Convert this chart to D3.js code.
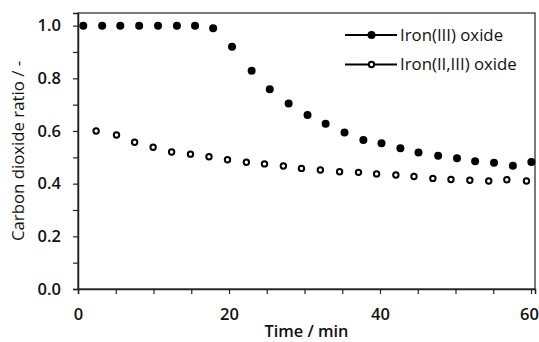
<!DOCTYPE html>
<html>
<head>
<meta charset="utf-8">
<script src="https://cdn.jsdelivr.net/npm/d3@7"></script>
<style>
  html, body { margin: 0; padding: 0; background: #fff; }
  svg { display: block; font-family: "Open Sans", sans-serif; }
</style>
</head>
<body>
<svg id="chart" width="539" height="342"></svg>
<script>
// Data
const seriesNames = ["Iron(III) oxide", "Iron(II,III) oxide"];
const timeIron3 = [0.7, 3.2, 5.6, 8.1, 10.6, 13.1, 15.5, 17.9, 20.4, 23.0, 25.4, 27.9, 30.4, 32.8, 35.3, 37.8, 40.2, 42.7, 45.1, 47.7, 50.2, 52.6, 55.1, 57.6, 60.05];
const ratioIron3 = [1.0, 1.0, 1.0, 1.0, 1.0, 1.0, 1.0, 0.990, 0.920, 0.829, 0.758, 0.704, 0.661, 0.627, 0.594, 0.566, 0.553, 0.534, 0.518, 0.506, 0.496, 0.485, 0.479, 0.468, 0.482];
const timeIron23 = [2.4, 5.1, 7.5, 9.95, 12.4, 14.9, 17.35, 19.8, 22.3, 24.7, 27.2, 29.6, 32.1, 34.65, 37.15, 39.55, 42.1, 44.5, 47.0, 49.4, 51.9, 54.4, 56.8, 59.4];
const ratioIron23 = [0.600, 0.585, 0.557, 0.538, 0.520, 0.512, 0.502, 0.491, 0.481, 0.475, 0.467, 0.458, 0.452, 0.445, 0.443, 0.437, 0.433, 0.427, 0.420, 0.416, 0.413, 0.410, 0.415, 0.410];
const xTicks = [0, 20, 40, 60];
const xMinorTicks = [0, 5, 10, 15, 20, 25, 30, 35, 40, 45, 50, 55, 60];
const yTicks = [0.0, 0.2, 0.4, 0.6, 0.8, 1.0];
const yMinorTicks = [0, 0.1, 0.2, 0.3, 0.4, 0.5, 0.6, 0.7, 0.8, 0.9, 1.0];
const xDomain = [0, 60.53];
const yDomain = [0, 1.048];

const svg = d3.select("#chart");
const L = 78, R = 535, T = 13, B = 289;

const x = d3.scaleLinear().domain(xDomain).range([L, R]);
const y = d3.scaleLinear().domain(yDomain).range([B, T]);

// frame (top & right)
svg.append("rect").attr("x", L).attr("y", T).attr("width", R - L).attr("height", B - T)
  .attr("fill", "none").attr("stroke", "#222").attr("stroke-width", 1.2);

// x axis
svg.append("g").attr("transform", `translate(0,${B})`)
  .call(d3.axisBottom(x).tickValues(xMinorTicks).tickSize(5).tickFormat(""));
const xLab = svg.append("g").attr("transform", `translate(0,${B})`)
  .call(d3.axisBottom(x).tickValues(xTicks).tickSize(0).tickPadding(19).tickFormat(d3.format("d")));
xLab.select(".domain").remove();

// y axis
svg.append("g").attr("transform", `translate(${L},0)`)
  .call(d3.axisLeft(y).tickValues(yMinorTicks).tickSize(5).tickFormat(""));
const yLab = svg.append("g").attr("transform", `translate(${L},0)`)
  .call(d3.axisLeft(y).tickValues(yTicks).tickSize(0).tickPadding(17).tickFormat(d3.format(".1f")));
yLab.select(".domain").remove();

svg.selectAll(".domain").attr("stroke", "#222").attr("stroke-width", 1.5);
svg.selectAll(".tick line").attr("stroke", "#222").attr("stroke-width", 1.2);
svg.selectAll(".tick text").attr("fill", "#111").attr("font-size", 16.5).attr("font-weight", 600)
  .attr("font-family", "'Open Sans', sans-serif");
// keep the last x label inside the picture
xLab.selectAll(".tick text").filter(d => d === 60).attr("text-anchor", "end").attr("x", 7.5);

// axis titles
svg.append("text").attr("x", (L + R) / 2).attr("y", 337).attr("text-anchor", "middle")
  .attr("font-size", 16.3).attr("font-weight", 600).attr("fill", "#111").text("Time / min");
svg.append("text").attr("transform", `translate(24,${(T + B) / 2}) rotate(-90)`)
  .attr("text-anchor", "middle").attr("font-size", 16.8).attr("font-weight", 500).attr("fill", "#111")
  .text("Carbon dioxide ratio / -");

// points
const d1 = timeIron3.map((t, i) => [t, ratioIron3[i]]);
const d2 = timeIron23.map((t, i) => [t, ratioIron23[i]]);
svg.append("g").selectAll("circle").data(d1).join("circle")
  .attr("cx", d => x(d[0])).attr("cy", d => y(d[1])).attr("r", 4).attr("fill", "#000");
svg.append("g").selectAll("circle").data(d2).join("circle")
  .attr("cx", d => x(d[0])).attr("cy", d => y(d[1])).attr("r", 2.7)
  .attr("fill", "#fff").attr("stroke", "#000").attr("stroke-width", 2);

// legend
const lg = svg.append("g").attr("transform", "translate(345,35)");
seriesNames.forEach((name, i) => {
  const g = lg.append("g").attr("transform", `translate(0,${i * 29.5})`);
  g.append("line").attr("x1", 0).attr("x2", 52).attr("y1", 0).attr("y2", 0).attr("stroke", "#000").attr("stroke-width", 2.2);
  if (i === 0) g.append("circle").attr("cx", 26.5).attr("cy", 0).attr("r", 4).attr("fill", "#000");
  else g.append("circle").attr("cx", 26.5).attr("cy", 0).attr("r", 2.7).attr("fill", "#fff").attr("stroke", "#000").attr("stroke-width", 2);
  g.append("text").attr("x", 55).attr("y", 0).attr("dy", "0.35em").attr("font-size", 16.8).attr("fill", "#111").text(name);
});
</script>
</body>
</html>
